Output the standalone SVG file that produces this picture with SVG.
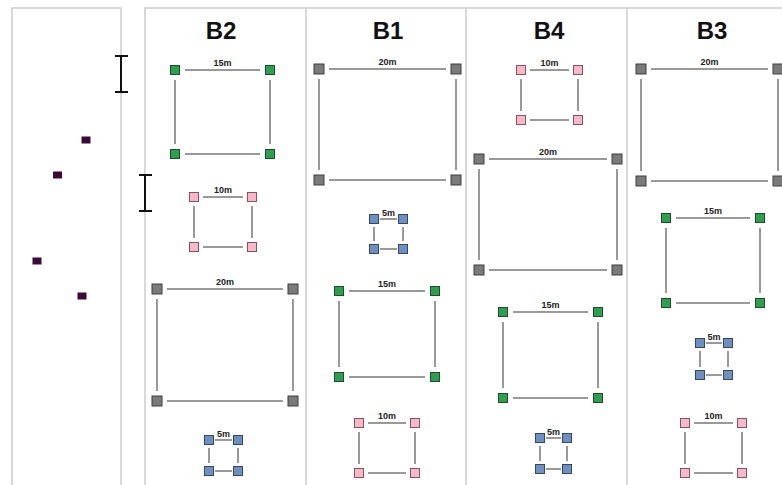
<svg xmlns="http://www.w3.org/2000/svg" width="782" height="485" viewBox="0 0 782 485">
<style>
.panel{fill:none;stroke:#cdcdcd;stroke-width:1.5}
.ibeam{stroke:#111;stroke-width:2;fill:none}
.mk{fill:#3a0a38}
.hd{font-family:"Liberation Sans",Arial,sans-serif;font-size:24px;font-weight:bold;fill:#111;text-anchor:middle}
.lb{font-family:"Liberation Sans",Arial,sans-serif;font-size:9px;font-weight:bold;fill:#222;text-anchor:middle}
.c line{stroke:#777;stroke-width:1.5}
.g{fill:#2f9e50;stroke:#1d4d2a;stroke-width:1}
.p{fill:#f5b9c9;stroke:#8a5060;stroke-width:1}
.k{fill:#7a7a7a;stroke:#3f3f3f;stroke-width:1}
.b{fill:#6f8fbd;stroke:#34476a;stroke-width:1}
</style>
<rect width="782" height="485" fill="#fff"/>
<g id="frames">
<rect class="panel" x="12" y="8" width="109" height="490"/>
<polyline class="panel" points="145,498 145,8 783,8"/>
<line class="panel" x1="306" y1="8" x2="306" y2="498"/>
<line class="panel" x1="466" y1="8" x2="466" y2="498"/>
<line class="panel" x1="627" y1="8" x2="627" y2="498"/>
</g>
<g id="ibeams">
<path class="ibeam" d="M121,56V92M115,56H128M115,92H128"/>
<path class="ibeam" d="M145,175V211M139,175H152M139,211H152"/>
</g>
<g id="markers">
<rect class="mk" x="81.5" y="136.5" width="9" height="7"/>
<rect class="mk" x="53" y="171.5" width="9" height="7"/>
<rect class="mk" x="32.5" y="257.5" width="9" height="7"/>
<rect class="mk" x="77.5" y="292.5" width="9" height="7"/>
</g>
<g id="headings">
<text class="hd" x="221" y="39">B2</text>
<text class="hd" x="388" y="39">B1</text>
<text class="hd" x="549" y="39">B4</text>
<text class="hd" x="712" y="39">B3</text>
</g>
<g id="connectors" class="c">
<line x1="185" y1="70" x2="260" y2="70"/><line x1="185" y1="154" x2="260" y2="154"/><line x1="175" y1="80" x2="175" y2="144"/><line x1="270" y1="80" x2="270" y2="144"/>
<line x1="203" y1="197" x2="243" y2="197"/><line x1="203" y1="247" x2="243" y2="247"/><line x1="194" y1="206" x2="194" y2="238"/><line x1="252" y1="206" x2="252" y2="238"/>
<line x1="167" y1="289" x2="283" y2="289"/><line x1="167" y1="401" x2="283" y2="401"/><line x1="157" y1="299" x2="157" y2="391"/><line x1="293" y1="299" x2="293" y2="391"/>
<line x1="215" y1="440" x2="232" y2="440"/><line x1="215" y1="471" x2="232" y2="471"/><line x1="209" y1="448" x2="209" y2="463"/><line x1="238" y1="448" x2="238" y2="463"/>
<line x1="329" y1="69" x2="446" y2="69"/><line x1="329" y1="180" x2="446" y2="180"/><line x1="319" y1="79" x2="319" y2="170"/><line x1="456" y1="79" x2="456" y2="170"/>
<line x1="380" y1="219" x2="397" y2="219"/><line x1="380" y1="249" x2="397" y2="249"/><line x1="374" y1="227" x2="374" y2="241"/><line x1="403" y1="227" x2="403" y2="241"/>
<line x1="349" y1="291" x2="425" y2="291"/><line x1="349" y1="377" x2="425" y2="377"/><line x1="339" y1="301" x2="339" y2="367"/><line x1="435" y1="301" x2="435" y2="367"/>
<line x1="368" y1="423" x2="406" y2="423"/><line x1="368" y1="473" x2="406" y2="473"/><line x1="359" y1="432" x2="359" y2="464"/><line x1="415" y1="432" x2="415" y2="464"/>
<line x1="530" y1="70" x2="569" y2="70"/><line x1="530" y1="120" x2="569" y2="120"/><line x1="521" y1="79" x2="521" y2="111"/><line x1="578" y1="79" x2="578" y2="111"/>
<line x1="489" y1="159" x2="607" y2="159"/><line x1="489" y1="270" x2="607" y2="270"/><line x1="479" y1="169" x2="479" y2="260"/><line x1="617" y1="169" x2="617" y2="260"/>
<line x1="513" y1="312" x2="588" y2="312"/><line x1="513" y1="398" x2="588" y2="398"/><line x1="503" y1="322" x2="503" y2="388"/><line x1="598" y1="322" x2="598" y2="388"/>
<line x1="546" y1="438" x2="561" y2="438"/><line x1="546" y1="469" x2="561" y2="469"/><line x1="540" y1="446" x2="540" y2="461"/><line x1="567" y1="446" x2="567" y2="461"/>
<line x1="651" y1="69" x2="768" y2="69"/><line x1="651" y1="181" x2="768" y2="181"/><line x1="641" y1="79" x2="641" y2="171"/><line x1="778" y1="79" x2="778" y2="171"/>
<line x1="676" y1="218" x2="750" y2="218"/><line x1="676" y1="303" x2="750" y2="303"/><line x1="666" y1="228" x2="666" y2="293"/><line x1="760" y1="228" x2="760" y2="293"/>
<line x1="706" y1="343" x2="722" y2="343"/><line x1="706" y1="375" x2="722" y2="375"/><line x1="700" y1="351" x2="700" y2="367"/><line x1="728" y1="351" x2="728" y2="367"/>
<line x1="694" y1="423" x2="733" y2="423"/><line x1="694" y1="473" x2="733" y2="473"/><line x1="685" y1="432" x2="685" y2="464"/><line x1="742" y1="432" x2="742" y2="464"/>
</g>
<g id="b2-15m"><rect class="g" x="170.5" y="65.5" width="9" height="9"/><rect class="g" x="265.5" y="65.5" width="9" height="9"/><rect class="g" x="170.5" y="149.5" width="9" height="9"/><rect class="g" x="265.5" y="149.5" width="9" height="9"/><text class="lb" x="222.5" y="66">15m</text></g>
<g id="b2-10m"><rect class="p" x="189.5" y="192.5" width="9" height="9"/><rect class="p" x="247.5" y="192.5" width="9" height="9"/><rect class="p" x="189.5" y="242.5" width="9" height="9"/><rect class="p" x="247.5" y="242.5" width="9" height="9"/><text class="lb" x="223" y="193">10m</text></g>
<g id="b2-20m"><rect class="k" x="152" y="284" width="10" height="10"/><rect class="k" x="288" y="284" width="10" height="10"/><rect class="k" x="152" y="396" width="10" height="10"/><rect class="k" x="288" y="396" width="10" height="10"/><text class="lb" x="225" y="285">20m</text></g>
<g id="b2-5m"><rect class="b" x="204.5" y="435.5" width="9" height="9"/><rect class="b" x="233.5" y="435.5" width="9" height="9"/><rect class="b" x="204.5" y="466.5" width="9" height="9"/><rect class="b" x="233.5" y="466.5" width="9" height="9"/><text class="lb" x="223.5" y="437">5m</text></g>
<g id="b1-20m"><rect class="k" x="314" y="64" width="10" height="10"/><rect class="k" x="451" y="64" width="10" height="10"/><rect class="k" x="314" y="175" width="10" height="10"/><rect class="k" x="451" y="175" width="10" height="10"/><text class="lb" x="387.5" y="65">20m</text></g>
<g id="b1-5m"><rect class="b" x="369.5" y="214.5" width="9" height="9"/><rect class="b" x="398.5" y="214.5" width="9" height="9"/><rect class="b" x="369.5" y="244.5" width="9" height="9"/><rect class="b" x="398.5" y="244.5" width="9" height="9"/><text class="lb" x="388.5" y="216">5m</text></g>
<g id="b1-15m"><rect class="g" x="334.5" y="286.5" width="9" height="9"/><rect class="g" x="430.5" y="286.5" width="9" height="9"/><rect class="g" x="334.5" y="372.5" width="9" height="9"/><rect class="g" x="430.5" y="372.5" width="9" height="9"/><text class="lb" x="387" y="287">15m</text></g>
<g id="b1-10m"><rect class="p" x="354.5" y="418.5" width="9" height="9"/><rect class="p" x="410.5" y="418.5" width="9" height="9"/><rect class="p" x="354.5" y="468.5" width="9" height="9"/><rect class="p" x="410.5" y="468.5" width="9" height="9"/><text class="lb" x="387" y="419">10m</text></g>
<g id="b4-10m"><rect class="p" x="516.5" y="65.5" width="9" height="9"/><rect class="p" x="573.5" y="65.5" width="9" height="9"/><rect class="p" x="516.5" y="115.5" width="9" height="9"/><rect class="p" x="573.5" y="115.5" width="9" height="9"/><text class="lb" x="549.5" y="66">10m</text></g>
<g id="b4-20m"><rect class="k" x="474" y="154" width="10" height="10"/><rect class="k" x="612" y="154" width="10" height="10"/><rect class="k" x="474" y="265" width="10" height="10"/><rect class="k" x="612" y="265" width="10" height="10"/><text class="lb" x="548" y="155">20m</text></g>
<g id="b4-15m"><rect class="g" x="498.5" y="307.5" width="9" height="9"/><rect class="g" x="593.5" y="307.5" width="9" height="9"/><rect class="g" x="498.5" y="393.5" width="9" height="9"/><rect class="g" x="593.5" y="393.5" width="9" height="9"/><text class="lb" x="550.5" y="308">15m</text></g>
<g id="b4-5m"><rect class="b" x="535.5" y="433.5" width="9" height="9"/><rect class="b" x="562.5" y="433.5" width="9" height="9"/><rect class="b" x="535.5" y="464.5" width="9" height="9"/><rect class="b" x="562.5" y="464.5" width="9" height="9"/><text class="lb" x="553.5" y="435">5m</text></g>
<g id="b3-20m"><rect class="k" x="636" y="64" width="10" height="10"/><rect class="k" x="773" y="64" width="10" height="10"/><rect class="k" x="636" y="176" width="10" height="10"/><rect class="k" x="773" y="176" width="10" height="10"/><text class="lb" x="709.5" y="65">20m</text></g>
<g id="b3-15m"><rect class="g" x="661.5" y="213.5" width="9" height="9"/><rect class="g" x="755.5" y="213.5" width="9" height="9"/><rect class="g" x="661.5" y="298.5" width="9" height="9"/><rect class="g" x="755.5" y="298.5" width="9" height="9"/><text class="lb" x="713" y="214">15m</text></g>
<g id="b3-5m"><rect class="b" x="695.5" y="338.5" width="9" height="9"/><rect class="b" x="723.5" y="338.5" width="9" height="9"/><rect class="b" x="695.5" y="370.5" width="9" height="9"/><rect class="b" x="723.5" y="370.5" width="9" height="9"/><text class="lb" x="714" y="340">5m</text></g>
<g id="b3-10m"><rect class="p" x="680.5" y="418.5" width="9" height="9"/><rect class="p" x="737.5" y="418.5" width="9" height="9"/><rect class="p" x="680.5" y="468.5" width="9" height="9"/><rect class="p" x="737.5" y="468.5" width="9" height="9"/><text class="lb" x="713.5" y="419">10m</text></g>
</svg>
